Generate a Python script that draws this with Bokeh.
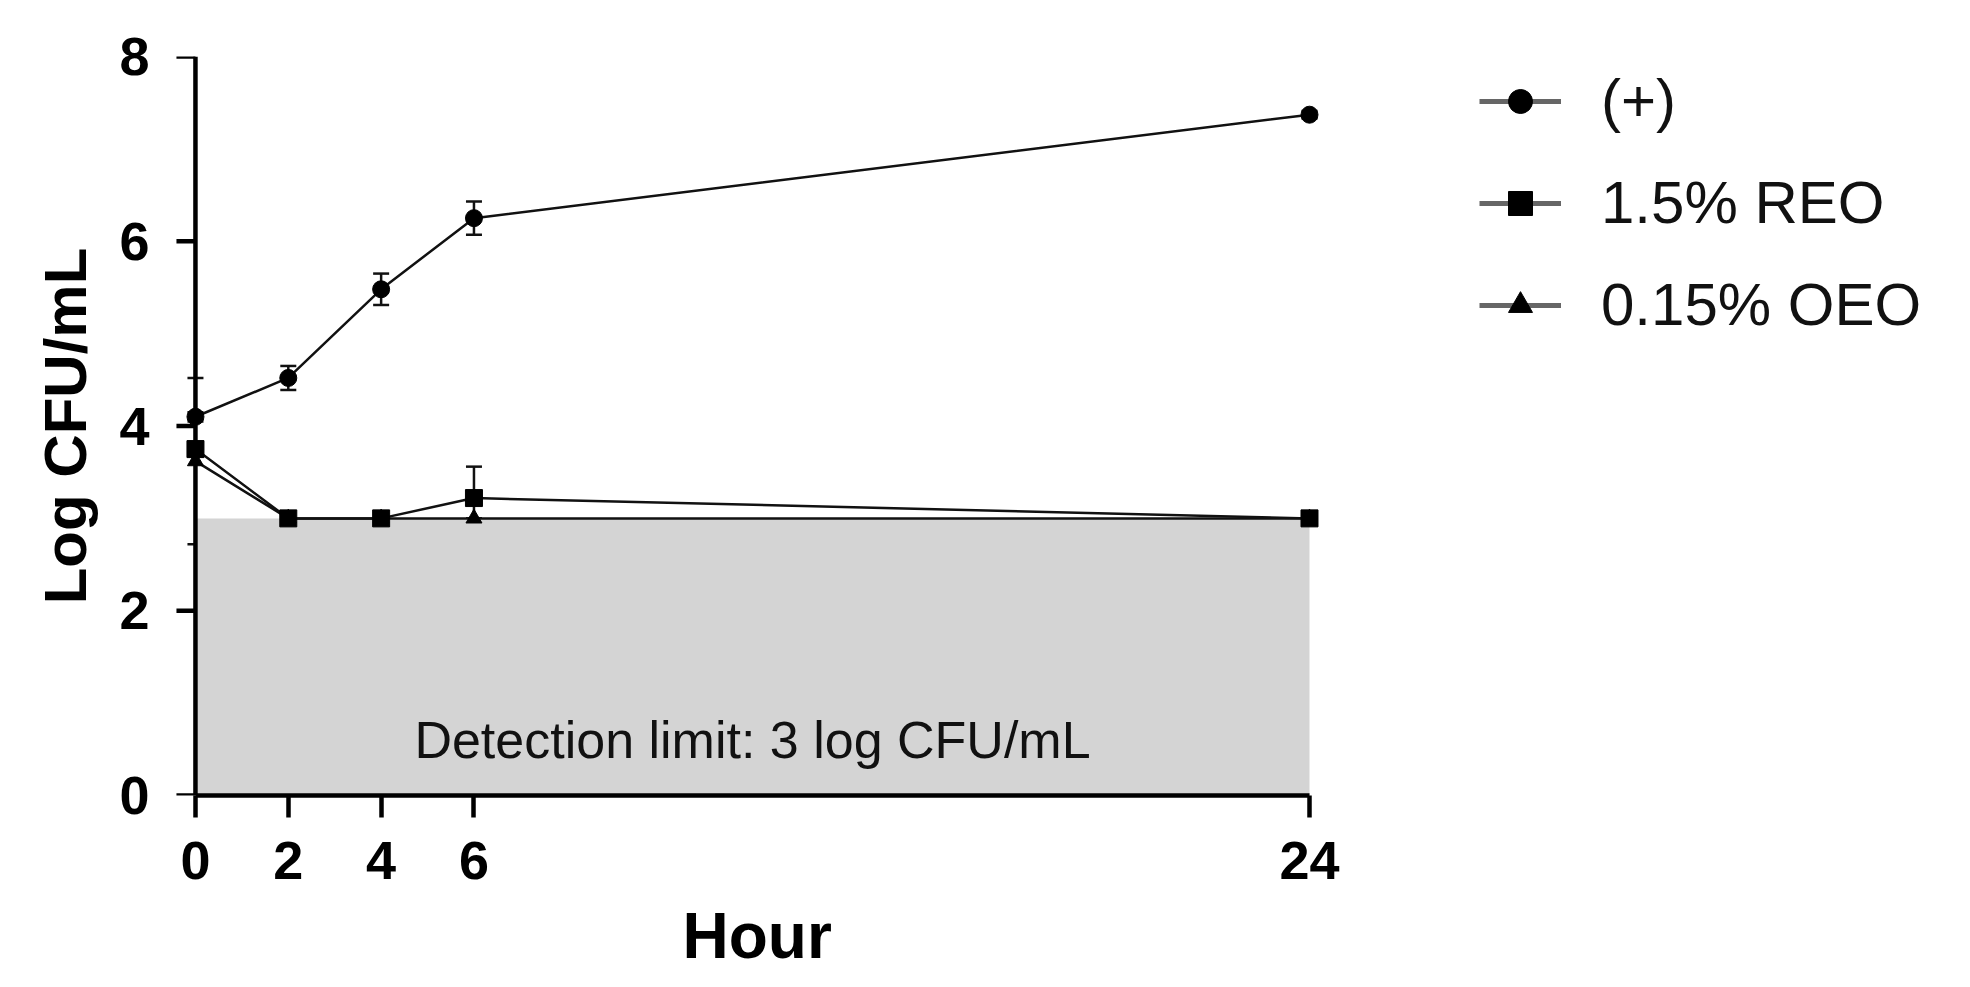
import math
from bokeh.plotting import figure
from bokeh.models import (ColumnDataSource, Whisker, Label, Legend, LegendItem,
                          Range1d, FixedTicker, TeeHead, Title)
from bokeh.embed import file_html
from bokeh.resources import INLINE

# ---------------- data ----------------
hours = [0, 2, 4, 6, 24]
pos_mean = [4.10, 4.52, 5.48, 6.25, 7.37]
pos_sd = [0.05, 0.13, 0.17, 0.18, 0.04]
reo_mean = [3.75, 3.00, 3.00, 3.22, 3.00]
reo_sd = [0.08, 0.00, 0.00, 0.34, 0.00]
oeo_mean = [3.62, 3.00, 3.00, 3.00, 3.00]
oeo_sd = [0.90, 0.00, 0.00, 0.00, 0.00]
series_names = ["(+)", "1.5% REO", "0.15% OEO"]
x_ticks = [0, 2, 4, 6, 24]
y_ticks = [0, 2, 4, 6, 8]
detection_limit = 3.0
detection_text = "Detection limit: 3 log CFU/mL"
x_title = "Hour"
y_title = "Log CFU/mL"

FONT = "Liberation Sans"

p = figure(width=1954, height=987,
           x_range=Range1d(-0.71, 37.68), y_range=Range1d(0, 8),
           output_backend="svg", toolbar_location=None,
           min_border_left=162, min_border_right=10,
           min_border_top=56, min_border_bottom=192)
p.outline_line_color = None
p.grid.visible = False
p.background_fill_color = "white"

# detection-limit shaded region
p.quad(left=[hours[0]], right=[hours[-1]], bottom=[0], top=[detection_limit],
       fill_color="#d4d4d4", line_color=None)

# y axis line and ticks drawn at x = 0
p.segment(x0=[hours[0]], y0=[y_ticks[0]], x1=[hours[0]], y1=[y_ticks[-1]],
          line_color="black", line_width=4.5)
p.ray(x=[hours[0]] * len(y_ticks), y=y_ticks, length=19, length_units="screen",
      angle=math.pi, line_color="black", line_width=4.5)

markers = ["circle", "square", "triangle"]
sizes = [17, 17, 16]
means = [pos_mean, reo_mean, oeo_mean]
sds = [pos_sd, reo_sd, oeo_sd]

legend_items = {}
for name, m, sd, mk, sz in zip(series_names[::-1], means[::-1], sds[::-1],
                               markers[::-1], sizes[::-1]):
    src = ColumnDataSource(dict(x=hours, y=m,
                                lo=[a - b for a, b in zip(m, sd)],
                                hi=[a + b for a, b in zip(m, sd)]))
    p.line("x", "y", source=src, line_color="#111111", line_width=2.5)
    w = Whisker(base="x", lower="lo", upper="hi", source=src,
                line_color="#111111", line_width=2.5,
                upper_head=TeeHead(size=16, line_width=2.5, line_color="#111111"),
                lower_head=TeeHead(size=16, line_width=2.5, line_color="#111111"))
    p.add_layout(w)
    p.scatter("x", "y", source=src, marker=mk, size=sz,
              fill_color="black", line_color="black")
    # hidden renderers used only for the legend glyphs (gray line + marker)
    lr = p.line("x", "y", source=src, line_color="#666666", line_width=5, visible=False)
    sr = p.scatter("x", "y", source=src, marker=mk, size=sz - 3,
                   fill_color="black", line_color="black", visible=False)
    legend_items[name] = LegendItem(label=name, renderers=[lr, sr])

# detection limit text
p.add_layout(Label(x=12, y=0.6, text=detection_text, text_align="center",
                   text_baseline="middle", text_font=FONT,
                   text_font_size="52px", text_color="#111111"))


def style(ax):
    ax.axis_line_width = 4.5
    ax.axis_line_color = "black"
    ax.major_tick_line_width = 4.5
    ax.major_tick_line_color = "black"
    ax.minor_tick_line_color = None
    ax.major_tick_in = 0
    ax.major_label_text_font = FONT
    ax.major_label_text_font_style = "bold"
    ax.major_label_text_font_size = "54px"
    ax.major_label_text_color = "black"
    ax.axis_label_text_font = FONT
    ax.axis_label_text_font_style = "bold"
    ax.axis_label_text_color = "black"


# x axis
xax = p.xaxis[0]
style(xax)
xax.ticker = FixedTicker(ticks=x_ticks)
xax.bounds = (0, 24)
xax.major_tick_out = 22
xax.major_label_standoff = 24

# x title placed under the 0-24 span
p.add_layout(Title(text=x_title, align="left", offset=520, standoff=32,
                   text_font=FONT, text_font_size="64px",
                   text_font_style="bold", text_color="black"), "below")

# y axis: labels and title only (line/ticks drawn at x = 0 above)
yax = p.yaxis[0]
style(yax)
yax.ticker = FixedTicker(ticks=y_ticks)
yax.axis_line_color = None
yax.major_tick_line_color = None
yax.major_tick_out = 0
yax.major_label_standoff = 13
yax.axis_label = y_title
yax.axis_label_text_font_size = "60px"
yax.axis_label_standoff = 17

legend = Legend(items=[legend_items[n] for n in series_names],
                location=(1317, 456), orientation="vertical",
                label_text_font=FONT, label_text_font_size="60px",
                label_text_color="#111111",
                glyph_width=82, glyph_height=60, label_height=60,
                label_standoff=40, spacing=33, padding=0, margin=0,
                border_line_color=None, background_fill_alpha=0)
p.add_layout(legend, "center")

open("out.html", "w").write(file_html(p, INLINE))
